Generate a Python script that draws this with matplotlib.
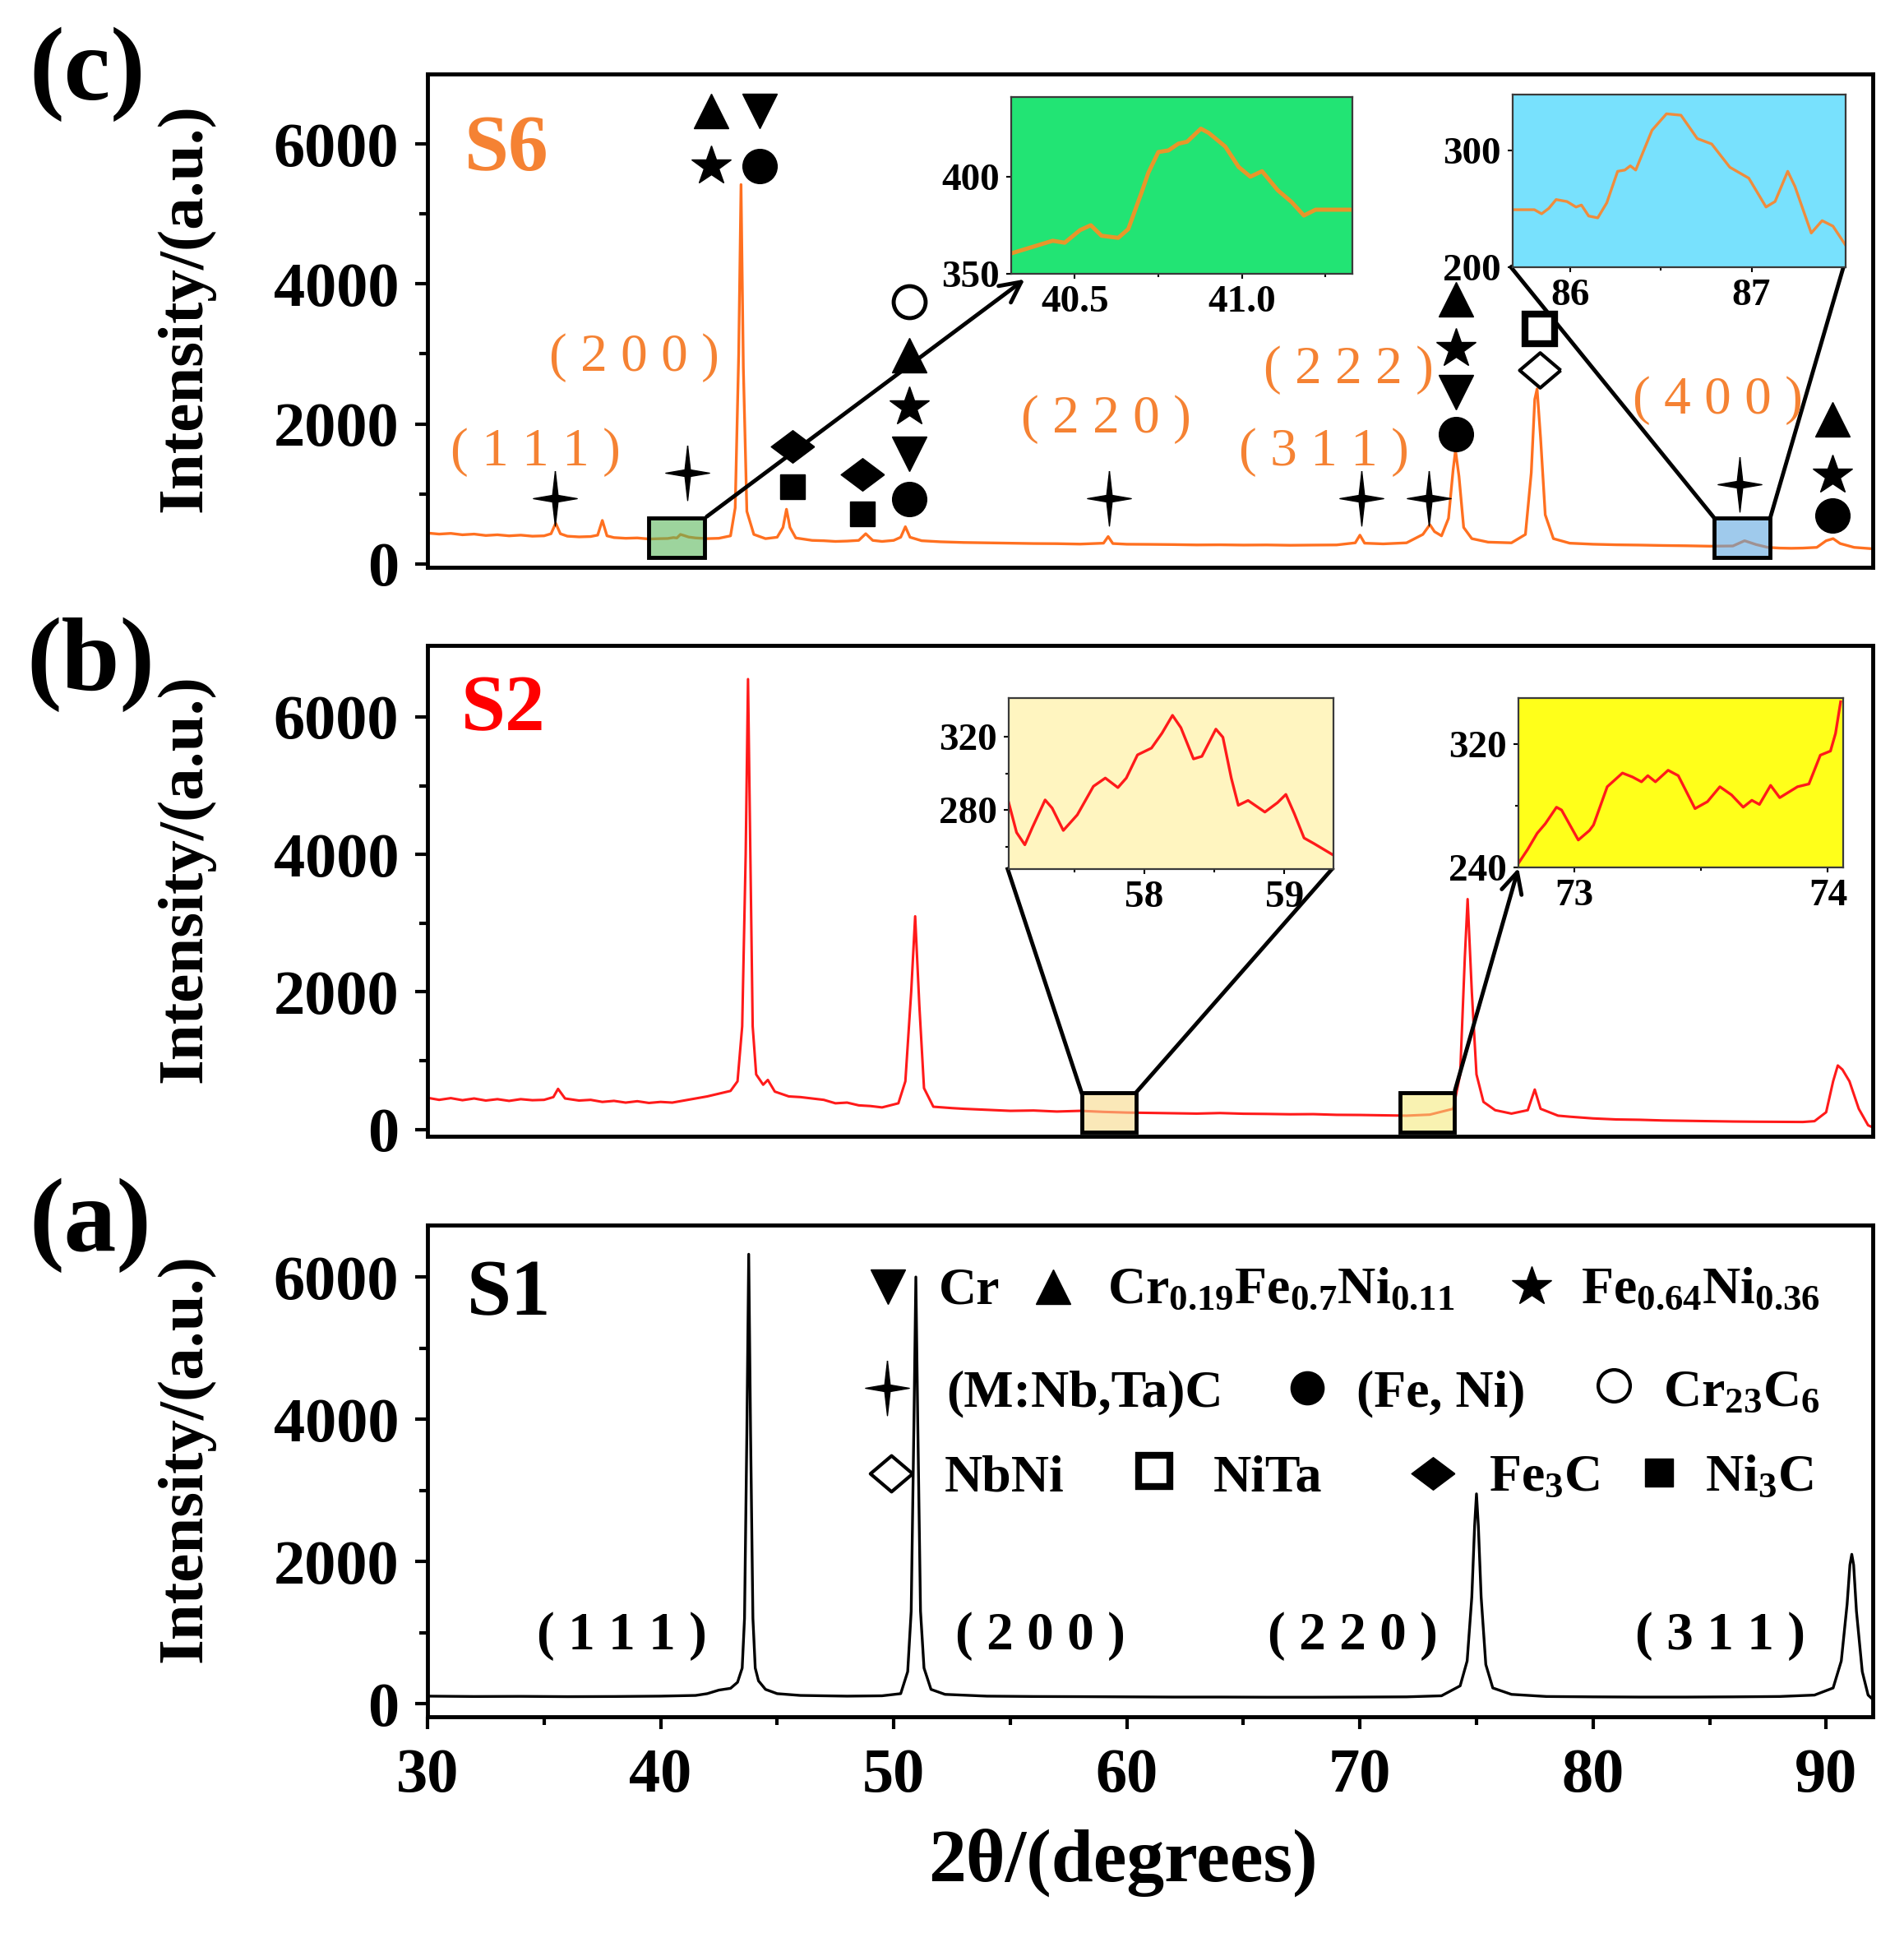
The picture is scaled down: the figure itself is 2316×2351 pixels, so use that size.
import numpy as np
import matplotlib.pyplot as plt
from matplotlib.patches import Rectangle
from matplotlib.colors import to_rgba
from matplotlib.ticker import MultipleLocator, FixedLocator, FormatStrFormatter

plt.rcParams['font.family'] = ['Liberation Serif', 'DejaVu Serif']
plt.rcParams['font.weight'] = 'bold'
plt.rcParams['mathtext.fontset'] = 'custom'
plt.rcParams['mathtext.rm'] = 'Liberation Serif:bold'
plt.rcParams['mathtext.it'] = 'Liberation Serif:bold'
plt.rcParams['mathtext.bf'] = 'Liberation Serif:bold'

# ---------------- data ----------------
# S6 (panel c)
s6_x = [30.0, 30.5, 31.0, 31.5, 32.0, 32.5, 33.0, 33.5, 34.0, 34.5, 35.0, 35.3, 35.5, 35.7, 36.0, 36.5,
        37.0, 37.3, 37.5, 37.7, 38.0, 38.5, 39.0, 39.5, 40.0, 40.3, 40.55, 40.7, 40.85, 41.0, 41.2, 41.5,
        42.0, 42.5, 43.0, 43.2, 43.35, 43.45, 43.55, 43.7, 44.0, 44.5, 45.0, 45.25, 45.4, 45.55, 45.8,
        46.5, 47.0, 47.5, 48.0, 48.5, 48.8, 49.1, 49.5, 50.0, 50.3, 50.5, 50.7, 51.2, 52.0, 53.0, 54.0,
        55.0, 56.0, 57.0, 58.0, 59.0, 59.2, 59.4, 60.0, 61.0, 62.0, 63.0, 64.0, 65.0, 66.0, 67.0, 68.0,
        69.0, 69.8, 70.0, 70.2, 71.0, 72.0, 72.7, 73.0, 73.2, 73.5, 73.8, 74.0, 74.1, 74.25, 74.45, 74.8,
        75.5, 76.5, 77.1, 77.35, 77.5, 77.6, 77.75, 77.95, 78.3, 79.0, 80.0, 81.0, 82.0, 83.0, 84.0, 85.0,
        86.0, 86.5, 87.0, 87.5, 88.0, 88.5, 89.0, 89.6, 90.0, 90.3, 90.6, 91.2, 92.0]
s6_y = [440, 425, 435, 415, 425, 405, 415, 400, 410, 395, 400, 430, 580, 430, 395, 385,
        390, 410, 620, 400, 375, 365, 370, 355, 360, 362, 375, 370, 420, 405, 383, 370,
        360, 365, 400, 800, 3000, 5420, 2800, 750, 420, 360, 380, 520, 780, 520, 370,
        335, 330, 320, 325, 335, 430, 335, 320, 335, 380, 530, 380, 330, 315, 305, 300,
        295, 290, 288, 282, 295, 390, 290, 280, 278, 275, 270, 272, 268, 270, 265, 268,
        270, 300, 410, 295, 285, 300, 420, 560, 460, 400, 650, 1350, 1620, 1250, 520, 360,
        310, 300, 420, 1300, 2350, 2500, 1800, 700, 360, 295, 280, 272, 268, 262, 258, 252,
        255, 330, 275, 235, 225, 222, 225, 235, 330, 360, 290, 235, 215]

# S2 (panel b)
s2_x = [30.0, 30.5, 31.0, 31.5, 32.0, 32.5, 33.0, 33.5, 34.0, 34.5, 35.0, 35.4, 35.6, 35.9, 36.5, 37.0,
        37.5, 38.0, 38.5, 39.0, 39.5, 40.0, 40.5, 41.0, 41.5, 42.0, 42.5, 43.0, 43.3, 43.5, 43.65, 43.75,
        43.85, 43.95, 44.1, 44.4, 44.6, 44.9, 45.5, 46.0, 46.5, 47.0, 47.5, 48.0, 48.5, 49.0, 49.5, 50.2,
        50.5, 50.75, 50.92, 51.1, 51.3, 51.7, 52.5, 53.0, 54.0, 55.0, 56.0, 57.0, 58.0, 59.0, 60.0, 61.0,
        62.0, 63.0, 64.0, 65.0, 66.0, 67.0, 68.0, 69.0, 70.0, 71.0, 72.0, 73.0, 74.0, 74.3, 74.5, 74.62,
        74.8, 75.0, 75.3, 75.8, 76.5, 77.2, 77.5, 77.75, 78.5, 79.0, 80.0, 81.0, 82.0, 83.0, 84.0, 85.0,
        86.0, 87.0, 88.0, 89.0, 89.5, 90.0, 90.3, 90.5, 90.7, 91.0, 91.4, 91.8, 92.0]
s2_y = [460, 430, 455, 425, 450, 420, 440, 415, 440, 425, 430, 470, 590, 450, 420, 430,
        400, 415, 390, 410, 385, 400, 390, 420, 450, 480, 520, 560, 700, 1500, 4000, 6550,
        4000, 1500, 800, 650, 720, 550, 480, 470, 450, 430, 380, 390, 350, 340, 320, 380,
        700, 2000, 3100, 1800, 600, 330, 310, 300, 285, 270, 275, 260, 270, 255, 245, 240,
        235, 230, 238, 228, 225, 220, 222, 212, 210, 205, 200, 215, 300, 800, 2500, 3350,
        2000, 800, 400, 280, 230, 280, 580, 300, 200, 185, 160, 145, 140, 130, 125, 120,
        115, 112, 110, 108, 120, 250, 700, 930, 870, 700, 300, 60, 30]

# S1 (panel a)
s1_x = [30.0, 32.0, 34.0, 36.0, 38.0, 40.0, 41.5, 42.0, 42.5, 43.0, 43.3, 43.5, 43.6, 43.7, 43.78, 43.86,
        43.96, 44.06, 44.2, 44.5, 45.0, 46.0, 48.0, 49.5, 50.3, 50.6, 50.75, 50.87, 50.95, 51.03, 51.15,
        51.3, 51.6, 52.2, 54.0, 56.0, 58.0, 60.0, 62.0, 64.0, 66.0, 68.0, 70.0, 72.0, 73.5, 74.3, 74.6,
        74.8, 74.92, 75.0, 75.08, 75.2, 75.4, 75.7, 76.5, 78.0, 80.0, 82.0, 84.0, 86.0, 88.0, 89.5,
        90.3, 90.65, 90.9, 91.02, 91.1, 91.18, 91.3, 91.55, 91.8, 92.0]
s1_y = [105, 100, 102, 98, 100, 105, 115, 140, 190, 215, 300, 500, 1200, 3800, 6320, 3800,
        1200, 500, 320, 200, 140, 115, 105, 110, 140, 450, 1300, 4000, 6000, 4000, 1300,
        500, 200, 130, 105, 100, 98, 95, 92, 92, 90, 90, 92, 95, 110, 250, 600,
        1500, 2500, 2950, 2500, 1500, 550, 220, 130, 100, 95, 92, 92, 95, 100, 120,
        220, 600, 1400, 1950, 2100, 1950, 1300, 450, 120, 60]

# zoomed insets
ins_c1_x = [40.31, 40.434, 40.47, 40.516, 40.548, 40.58, 40.63, 40.66, 40.70, 40.72, 40.75, 40.78, 40.81,
            40.836, 40.877, 40.90, 40.95, 40.99, 41.025, 41.06, 41.107, 41.148, 41.185, 41.22, 41.33]
ins_c1_y = [360.5, 367, 366, 372.5, 375, 369.6, 368.5, 373, 392, 402, 412.7, 413.5, 417,
            418, 424.7, 422.6, 415.5, 405, 400, 402.8, 393, 387, 380, 383, 383]
ins_c2_x = [85.69, 85.80, 85.84, 85.88, 85.92, 85.98, 86.03, 86.06, 86.10, 86.15, 86.20, 86.26, 86.30,
            86.33, 86.36, 86.45, 86.53, 86.61, 86.70, 86.78, 86.88, 86.985, 87.08, 87.13, 87.20, 87.24,
            87.33, 87.39, 87.45, 87.52]
ins_c2_y = [249.3, 249.3, 245.8, 250.5, 258, 256.3, 251.6, 253.3, 243.9, 242.3, 255.2, 282.2, 283.3,
            286.9, 283.3, 317.4, 331.5, 330.3, 310.3, 305.6, 285.7, 276.3, 251.6, 256.3, 282.2, 269.2,
            229.3, 239.9, 235.2, 218.8]
ins_b1_x = [57.03, 57.086, 57.145, 57.20, 57.29, 57.34, 57.42, 57.52, 57.635, 57.72, 57.81, 57.87, 57.95,
            58.05, 58.125, 58.20, 58.26, 58.35, 58.41, 58.51, 58.56, 58.62, 58.67, 58.74, 58.86, 58.95,
            59.01, 59.07, 59.14, 59.21, 59.34]
ins_b1_y = [284.1, 267.9, 261.2, 270.8, 285.6, 281.2, 269, 277.5, 293, 297.5, 292.3, 297.5, 310.1,
            313.8, 321.9, 331.6, 324.9, 307.9, 309.3, 324.1, 319.7, 297.5, 282.7, 285.3, 279, 284.1,
            288.6, 278.2, 264.9, 261.9, 256]
ins_b2_x = [72.78, 72.816, 72.854, 72.886, 72.93, 72.95, 73.016, 73.06, 73.076, 73.13, 73.19, 73.23,
            73.265, 73.29, 73.32, 73.37, 73.41, 73.476, 73.525, 73.574, 73.62, 73.666, 73.70, 73.73,
            73.774, 73.81, 73.88, 73.925, 73.97, 74.01, 74.03, 74.05]
ins_b2_y = [242.7, 251.6, 262.2, 268.4, 279.1, 277.3, 257.8, 264, 267.6, 292.4, 301.3, 298.7,
            295.6, 299.6, 295.6, 303.1, 299.6, 278.2, 282.7, 292.4, 287.1, 279.1, 283.6, 280.9,
            293.3, 285.3, 292.4, 294.2, 312.9, 315.6, 327.1, 347.6]

# phase markers in panel c (2theta, height)
c_tri_up = [(42.15, 6470), (50.67, 2980), (74.12, 3775), (90.28, 2065)]
c_tri_down = [(44.26, 6470), (50.67, 1570), (74.12, 2455)]
c_star = [(42.15, 5685), (50.67, 2240), (74.12, 3070), (90.28, 1270)]
c_circle = [(44.26, 5685), (50.67, 920), (74.12, 1855), (90.28, 690)]
c_open_circle = [(50.67, 3740)]
c_diamond = [(45.65, 1677), (48.66, 1272)]
c_square = [(45.65, 1096), (48.66, 708)]
c_sparkle = [(35.46, 937), (41.16, 1307), (59.23, 937), (70.05, 937), (72.96, 937), (86.3, 1131)]
c_open_square = [(77.71, 3352)]
c_open_diamond = [(77.71, 2770)]

hkl_c = [('( 1 1 1 )', 34.65, 1595), ('( 2 0 0 )', 38.87, 2946), ('( 2 2 0 )', 59.12, 2065),
         ('( 2 2 2 )', 69.5, 2770), ('( 3 1 1 )', 68.45, 1595), ('( 4 0 0 )', 85.35, 2335)]
hkl_a = [('( 1 1 1 )', 38.35, 948), ('( 2 0 0 )', 56.3, 948), ('( 2 2 0 )', 69.7, 948),
         ('( 3 1 1 )', 85.45, 948)]

SPARKLE = [(0, 1), (0.1, 0.12), (0.8, 0), (0.1, -0.12), (0, -1), (-0.1, -0.12), (-0.8, 0),
           (-0.1, 0.12), (0, 1)]
DIAM = [(1, 0), (0, 0.75), (-1, 0), (0, -0.75), (1, 0)]
ODIAM = [(1, 0), (0, 0.85), (-1, 0), (0, -0.85), (1, 0)]

ORANGE = '#ff7020'
ORANGE_TXT = '#f58233'
RED = '#ff1a1a'

fig = plt.figure(figsize=(23.16, 23.51), dpi=100)
W, H = 2316.0, 2351.0


def fx(px):
    return px / W


def fy(py):
    return 1 - py / H


def main_axes(top, bottom, ylim, show_x):
    ax = fig.add_axes([fx(520), fy(bottom), fx(2278) - fx(520), (bottom - top) / H])
    ax.set_xlim(30, 92)
    ax.set_ylim(*ylim)
    for sp in ax.spines.values():
        sp.set_linewidth(3.5)
    ax.yaxis.set_major_locator(FixedLocator([0, 2000, 4000, 6000]))
    ax.yaxis.set_minor_locator(FixedLocator([1000, 3000, 5000]))
    ax.tick_params(axis='y', which='major', direction='out', length=11, width=3,
                   labelsize=55, pad=14)
    ax.tick_params(axis='y', which='minor', direction='out', length=7, width=3)
    if show_x:
        ax.xaxis.set_major_locator(MultipleLocator(10))
        ax.xaxis.set_minor_locator(MultipleLocator(5))
        ax.tick_params(axis='x', which='major', direction='out', length=11, width=3,
                       labelsize=55, pad=16)
        ax.tick_params(axis='x', which='minor', direction='out', length=7, width=3)
    else:
        ax.tick_params(axis='x', which='both', bottom=False, labelbottom=False)
    ax.set_ylabel('Intensity/(a.u.)', fontsize=57, fontweight='bold')
    ax.yaxis.set_label_coords(-0.147, 0.525)
    return ax


def mark(ax, pts, marker, ms, filled=True, mew=3):
    xs = [p[0] for p in pts]
    ys = [p[1] for p in pts]
    if filled:
        ax.plot(xs, ys, ls='none', marker=marker, ms=ms, color='k', mec='k', zorder=5)
    else:
        ax.plot(xs, ys, ls='none', marker=marker, ms=ms, mfc='white', mec='k', mew=mew, zorder=5)


def zoom_box(ax, x0, x1, y0, y1, color):
    ax.add_patch(Rectangle((x0, y0), x1 - x0, y1 - y0, fc=to_rgba(color, 0.6), ec='k',
                           lw=3.5, zorder=4))


def inset(left, top, right, bottom, fc, xs, ys, color, lw, xlim, ylim,
          xt, xmin, yt, ymin, xfmt):
    a = fig.add_axes([fx(left), fy(bottom), (right - left) / W, (bottom - top) / H])
    a.set_facecolor(fc)
    a.plot(xs, ys, color=color, lw=lw)
    a.set_xlim(*xlim)
    a.set_ylim(*ylim)
    a.xaxis.set_major_locator(FixedLocator(xt))
    a.xaxis.set_minor_locator(FixedLocator(xmin))
    a.yaxis.set_major_locator(FixedLocator(yt))
    a.yaxis.set_minor_locator(FixedLocator(ymin))
    a.xaxis.set_major_formatter(FormatStrFormatter(xfmt))
    for sp in a.spines.values():
        sp.set_linewidth(1.6)
        sp.set_color('#3a3a3a')
    a.tick_params(which='major', direction='out', length=4, width=1.5, labelsize=34, pad=6)
    a.tick_params(which='minor', direction='out', length=3, width=1.5)
    return a


# ---------------- panel (c) : S6 ----------------
axc = main_axes(90, 690, (-50, 7000), False)
axc.plot(s6_x, s6_y, color=ORANGE, lw=2.4)
axc.text(31.6, 5907, 'S6', color=ORANGE_TXT, fontsize=70, fontweight='bold', va='center')
for s, x, y in hkl_c:
    axc.text(x, y, s, color=ORANGE_TXT, fontsize=47, fontweight='normal', ha='center', va='center')
mark(axc, c_tri_up, '^', 30)
mark(axc, c_tri_down, 'v', 30)
mark(axc, c_star, '*', 36)
mark(axc, c_circle, 'o', 30)
mark(axc, c_open_circle, 'o', 28, filled=False, mew=3.5)
mark(axc, c_diamond, DIAM, 38)
mark(axc, c_square, 's', 22)
mark(axc, c_sparkle, SPARKLE, 48)
mark(axc, c_open_square, 's', 26, filled=False, mew=6)
mark(axc, c_open_diamond, ODIAM, 36, filled=False, mew=3)

zoom_box(axc, 39.5, 41.9, 90, 655, '#5cb85c')
zoom_box(axc, 85.2, 87.6, 90, 655, '#5fa8e0')
axc.annotate('', xy=(55.7, 4086), xytext=(41.9, 655),
             arrowprops=dict(arrowstyle='->', lw=3.5, color='k', mutation_scale=45))
axc.plot([85.2, 76.48], [655, 4239], color='k', lw=3.5)
axc.plot([87.6, 90.74], [655, 4239], color='k', lw=3.5)

inset(1230, 118, 1645, 333, '#22e474', ins_c1_x, ins_c1_y, '#e8962a', 3.6,
      (40.31, 41.33), (350, 441), [40.5, 41.0], [40.75, 41.25], [350, 400], [], '%.1f')
inset(1840, 115, 2245, 325, '#78e1fd', ins_c2_x, ins_c2_y, '#f08c3c', 2.4,
      (85.68, 87.52), (200, 348), [86, 87], [86.5], [200, 300], [], '%d')

# ---------------- panel (b) : S2 ----------------
axb = main_axes(785, 1382, (-100, 7040), False)
axb.plot(s2_x, s2_y, color=RED, lw=2.2)
axb.text(31.45, 6083, 'S2', color='#ff0000', fontsize=70, fontweight='bold', va='center')
zoom_box(axb, 58.06, 60.39, -40, 534, '#f8d98a')
zoom_box(axb, 71.73, 74.05, -40, 534, '#f6ea7e')
axb.plot([58.06, 54.89], [534, 3787], color='k', lw=3.5)
axb.plot([60.39, 68.8], [534, 3787], color='k', lw=3.5)
axb.annotate('', xy=(76.83, 3835), xytext=(74.05, 534),
             arrowprops=dict(arrowstyle='->', lw=3.5, color='k', mutation_scale=45))

inset(1227, 849, 1622, 1057, '#fff5c0', ins_b1_x, ins_b1_y, RED, 2.4,
      (57.03, 59.35), (248, 341), [58, 59], [57.5, 58.5], [280, 320], [260, 300], '%d')
inset(1847, 849, 2242, 1055, '#ffff1a', ins_b2_x, ins_b2_y, RED, 2.4,
      (72.78, 74.06), (240, 350), [73, 74], [73.5], [240, 320], [280], '%d')

# ---------------- panel (a) : S1 ----------------
axa = main_axes(1490, 2088, (-185, 6730), True)
axa.plot(s1_x, s1_y, color='k', lw=2.4)
axa.text(31.7, 5734, 'S1', color='k', fontsize=70, fontweight='bold', va='center')
for s, x, y in hkl_a:
    axa.text(x, y, s, color='k', fontsize=47, fontweight='bold', ha='center', va='center')
axa.set_xlabel('2θ/(degrees)', fontsize=66, fontweight='bold')
axa.xaxis.set_label_coords(0.481, -0.296)
axa.xaxis.label.set_va('center')

# legend drawn as markers + text
leg_markers = [((49.75, 5860), 'v', 30, True), ((56.83, 5860), '^', 30, True),
               ((77.36, 5860), '*', 36, True),
               ((49.72, 4440), SPARKLE, 48, True), ((67.75, 4440), 'o', 29, True),
               ((80.88, 4480), 'o', 28, False),
               ((49.9, 3240), ODIAM, 37, False), ((61.16, 3270), 's', 28, False),
               ((73.13, 3240), DIAM, 38, True), ((82.82, 3250), 's', 24, True)]
for (x, y), m, ms, filled in leg_markers:
    if filled:
        axa.plot([x], [y], ls='none', marker=m, ms=ms, color='k')
    else:
        mew = 6 if m == 's' else 3
        axa.plot([x], [y], ls='none', marker=m, ms=ms, mfc='white', mec='k', mew=mew)

leg_text = [(51.94, 5630, 'Cr'), (59.15, 5630, r'Cr$_{0.19}$Fe$_{0.7}$Ni$_{0.11}$'),
            (79.47, 5630, r'Fe$_{0.64}$Ni$_{0.36}$'),
            (52.25, 4185, '(M:Nb,Ta)C'), (69.86, 4185, '(Fe, Ni)'), (82.99, 4185, r'Cr$_{23}$C$_{6}$'),
            (52.18, 2994, 'NbNi'), (63.7, 2994, 'NiTa'), (75.53, 2994, r'Fe$_{3}$C'),
            (84.82, 2994, r'Ni$_{3}$C')]
for x, y, s in leg_text:
    axa.text(x, y, s, fontsize=46, fontweight='bold', ha='left', va='baseline')

# panel letters
fig.text(fx(106), fy(90), '(c)', fontsize=92, fontweight='bold', ha='center', va='center')
fig.text(fx(110), fy(808), '(b)', fontsize=92, fontweight='bold', ha='center', va='center')
fig.text(fx(110), fy(1490), '(a)', fontsize=92, fontweight='bold', ha='center', va='center')

fig.savefig('out.png', dpi=100)
